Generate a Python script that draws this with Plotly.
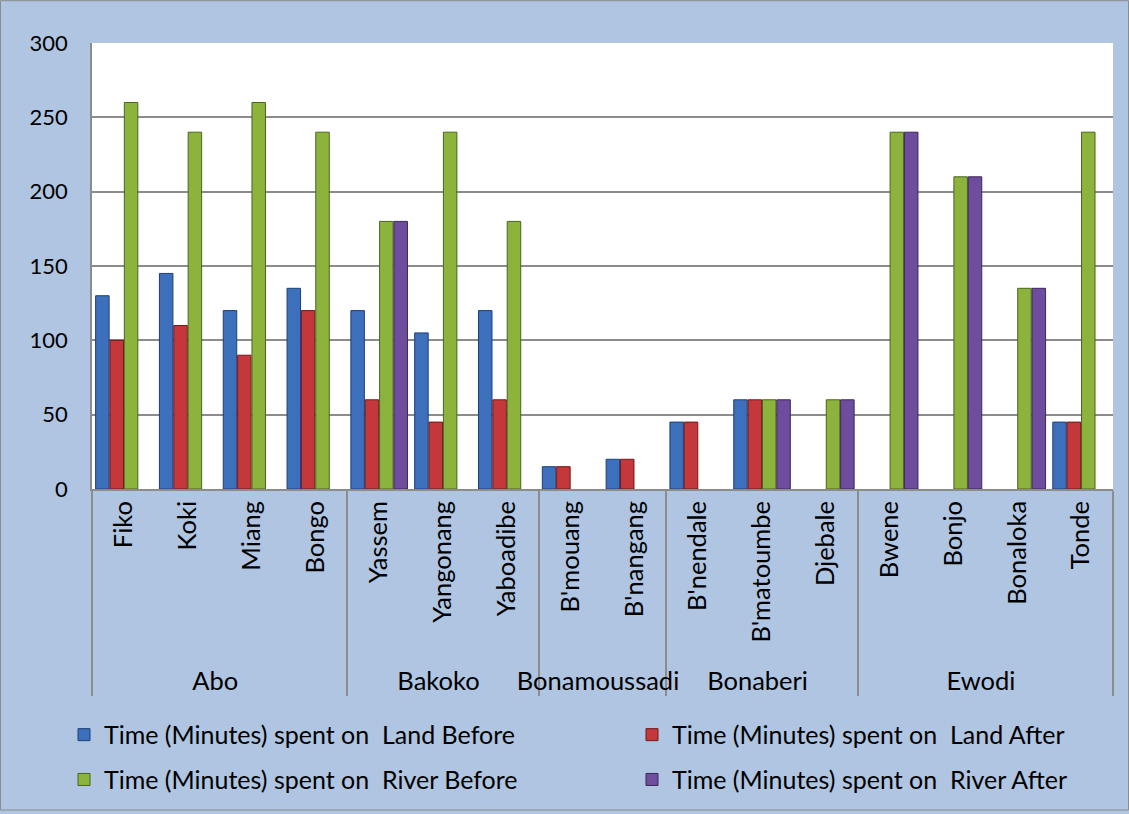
import plotly.graph_objects as go

# Areas (outer level) and villages (inner level)
areas = ["Abo", "Abo", "Abo", "Abo",
         "Bakoko", "Bakoko", "Bakoko",
         "Bonamoussadi", "Bonamoussadi",
         "Bonaberi", "Bonaberi", "Bonaberi",
         "Ewodi", "Ewodi", "Ewodi", "Ewodi"]
villages = ["Fiko", "Koki", "Miang", "Bongo",
            "Yassem", "Yangonang", "Yaboadibe",
            "B'mouang", "B'nangang",
            "B'nendale", "B'matoumbe", "Djebale",
            "Bwene", "Bonjo", "Bonaloka", "Tonde"]

# Time in minutes (None = no value)
land_before = [130, 145, 120, 135, 120, 105, 120, 15, 20, 45, 60, None, None, None, None, 45]
land_after = [100, 110, 90, 120, 60, 45, 60, 15, 20, 45, 60, None, None, None, None, 45]
river_before = [260, 240, 260, 240, 180, 240, 180, None, None, None, 60, 60, 240, 210, 135, 240]
river_after = [None, None, None, None, 180, None, None, None, None, None, 60, 60, 240, 210, 135, None]

series = [
    ("Time (Minutes) spent on  Land Before", land_before, "#3C70BC", "#1F3F73"),
    ("Time (Minutes) spent on  Land After", land_after, "#C4373A", "#6E1A1C"),
    ("Time (Minutes) spent on  River Before", river_before, "#8CB43C", "#4A6420"),
    ("Time (Minutes) spent on  River After", river_after, "#6E4C9E", "#3A2858"),
]

FONT = "Lato, 'Open Sans', sans-serif"

# Plot-area size in pixels, used to place the legend blocks in the margin
W, H = 1129, 814
ML, MR, MT, MB = 92, 16, 43, 323
PW, PH = W - ML - MR, H - MT - MB

def px_x(x):
    return (x - ML) / PW

def px_y(y):
    return (H - MB - y) / PH

# one legend per entry, laid out as a 2x2 grid below the axis
legend_ids = ["legend", "legend2", "legend3", "legend4"]
legend_pos = [(64, 738), (632, 738), (64, 783), (632, 783)]

fig = go.Figure()
for (name, vals, col, edge), lid in zip(series, legend_ids):
    fig.add_trace(go.Bar(
        x=[areas, villages], y=vals, name=name, legend=lid,
        marker=dict(color=col, line=dict(color=edge, width=1)),
    ))

legends = {}
for lid, (lx, ly) in zip(legend_ids, legend_pos):
    legends[lid] = dict(x=px_x(lx), xanchor="left", y=px_y(ly), yanchor="middle",
                        bgcolor="rgba(0,0,0,0)", font=dict(size=25, family=FONT),
                        itemwidth=30)

fig.update_layout(
    template="none",
    width=W, height=H,
    paper_bgcolor="#AFC5E2",
    plot_bgcolor="#FFFFFF",
    margin=dict(l=ML, r=MR, t=MT, b=MB),
    barmode="group",
    bargap=0.1,
    bargroupgap=0.06,
    font=dict(family=FONT, size=20, color="#000000"),
    showlegend=True,
    shapes=[dict(type="rect", xref="paper", yref="paper",
                 x0=px_x(0.5), x1=px_x(W - 0.5), y0=px_y(H - 0.5), y1=px_y(0.5),
                 line=dict(color="#8C8C8C", width=1),
                 fillcolor="rgba(0,0,0,0)", layer="below")],
    **legends,
)

fig.update_yaxes(
    range=[0, 300], dtick=50, showgrid=True, gridcolor="#8C8C8C", gridwidth=1.5,
    showline=True, linecolor="#8C8C8C", linewidth=1.5, zeroline=False,
    ticks="", ticklabelstandoff=18, automargin=False,
    tickfont=dict(size=22, family=FONT),
)
fig.update_xaxes(
    type="multicategory", tickangle=-90, showline=True, linecolor="#8C8C8C", linewidth=1.5,
    showgrid=False, showdividers=True, dividercolor="#8C8C8C", dividerwidth=1.5,
    ticks="", automargin=False, tickfont=dict(size=25.5, family=FONT),
)

fig.write_html("out.html")
